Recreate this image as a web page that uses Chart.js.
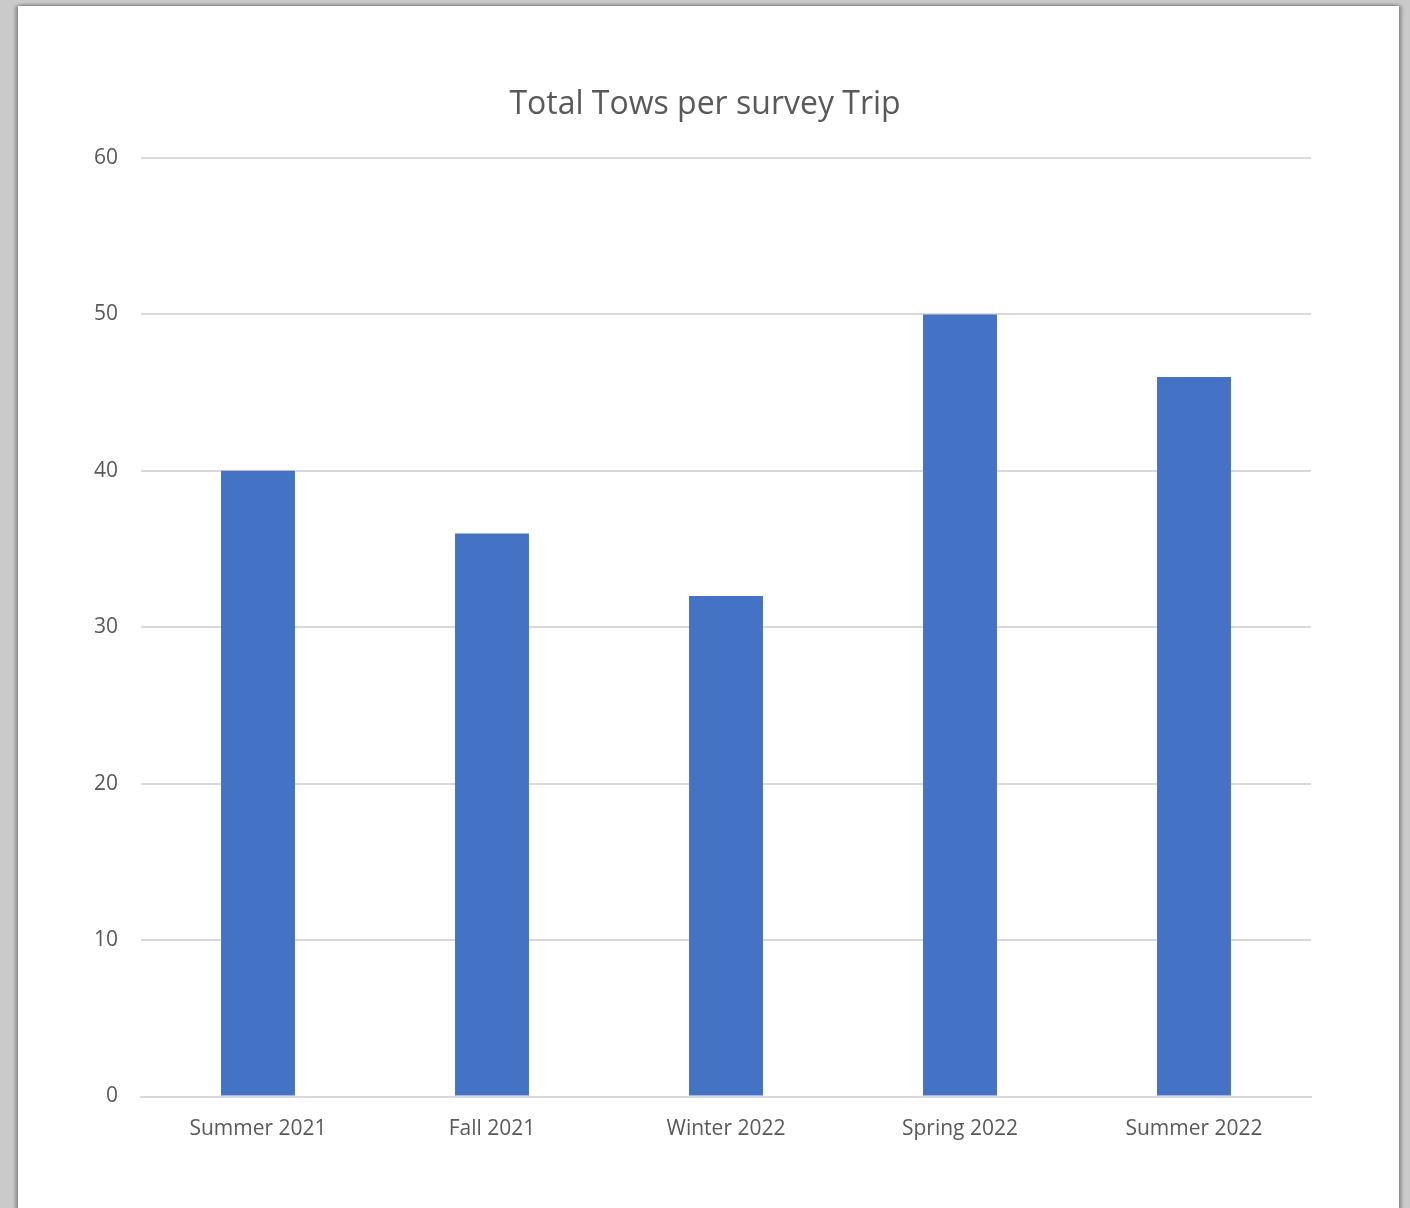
<!DOCTYPE html>
<html>
<head>
<meta charset="utf-8">
<script src="https://cdn.jsdelivr.net/npm/chart.js@4"></script>
<style>
  html, body { margin: 0; padding: 0; width: 1410px; height: 1208px; overflow: hidden; background: #c9cac9; }
  #panel { position: absolute; left: 18px; top: 6px; width: 1381px; height: 1220px; background: #ffffff;
           box-shadow: -3px 0 3px rgba(0,0,0,0.25), 3px 0 3px rgba(0,0,0,0.25), 0 -2px 3px rgba(0,0,0,0.15); }
  #wrap { position: absolute; left: 0; top: 0; width: 1410px; height: 1208px; }
</style>
</head>
<body>
<div id="panel"></div>
<div id="wrap"><canvas id="c"></canvas></div>
<script>
const chartTitle = "Total Tows per survey Trip";
const categories = ["Summer 2021", "Fall 2021", "Winter 2022", "Spring 2022", "Summer 2022"];
const totalTows = [40, 36, 32, 50, 46];
const yTicks = [0, 10, 20, 30, 40, 50, 60];

const textColor = "#595959";
const gridColor = "#d9d9d9";
const fontFamily = "'Open Sans', 'Noto Sans', sans-serif";

new Chart(document.getElementById("c"), {
  type: "bar",
  data: {
    labels: categories,
    datasets: [{
      label: "Total Tows",
      data: totalTows,
      backgroundColor: "#4472c4",
      borderWidth: 0,
      categoryPercentage: 1.0,
      barPercentage: 0.316
    }]
  },
  options: {
    responsive: true,
    maintainAspectRatio: false,
    animation: false,
    layout: { padding: 0 },
    plugins: {
      legend: { display: false },
      tooltip: { enabled: false },
      title: {
        display: true,
        text: chartTitle,
        color: textColor,
        font: { family: fontFamily, size: 32, weight: "normal", lineHeight: 1.2 },
        padding: { top: 85.6, bottom: 34 }
      }
    },
    scales: {
      x: {
        grid: { display: false, drawTicks: false },
        border: { display: true, color: gridColor, width: 2 },
        ticks: { color: textColor, font: { family: fontFamily, size: 21 }, padding: 20, maxRotation: 0 },
        afterFit: (s) => { s.height = 111.5; }
      },
      y: {
        min: 0, max: 60,
        afterBuildTicks: (s) => { s.ticks = yTicks.map(v => ({ value: v })); },
        grid: { color: gridColor, lineWidth: 2, drawTicks: false },
        border: { display: false },
        ticks: { color: textColor, font: { family: fontFamily, size: 21 }, padding: 23 },
        afterFit: (s) => { s.width = 141; }
      },
      yRightSpace: {
        position: "right",
        min: 0, max: 60,
        grid: { display: false, drawTicks: false },
        border: { display: false },
        ticks: { display: false },
        afterFit: (s) => { s.width = 99; }
      }
    }
  }
});
</script>
</body>
</html>
